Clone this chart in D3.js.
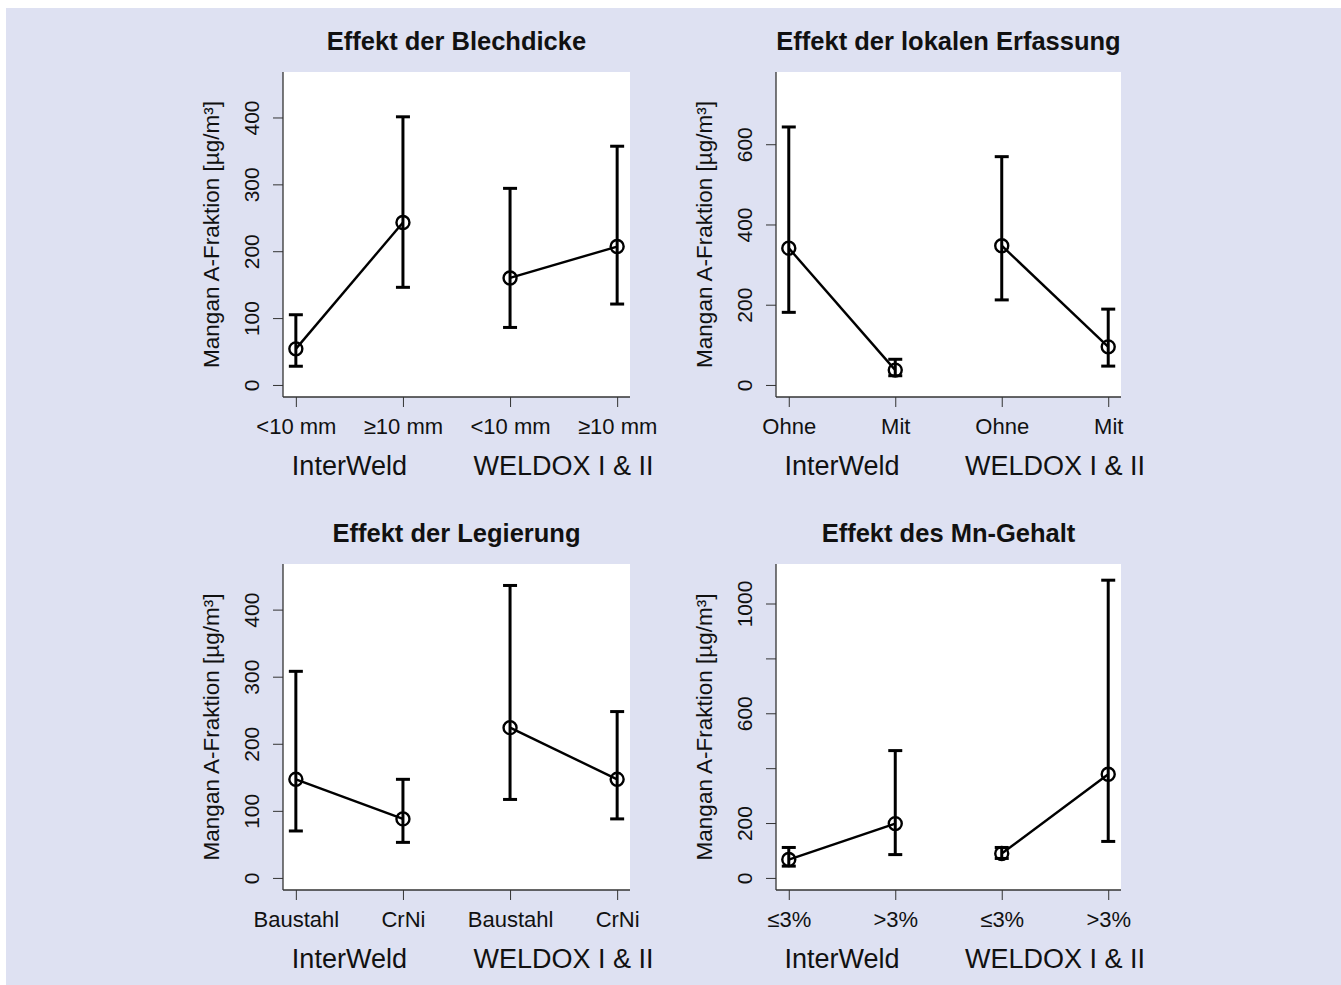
<!DOCTYPE html>
<html lang="de">
<head>
  <meta charset="UTF-8">
  <title>Mangan A-Fraktion</title>
  <script src="https://cdn.jsdelivr.net/npm/d3@7"></script>
  <style>
    body { margin: 0; background: #fff; }
    svg { display: block; font-family: "Liberation Sans", Arial, sans-serif; }
  </style>
</head>
<body>
  <div id="container"></div>
  <script>
    // daten
    const titles = ["Effekt der Blechdicke", "Effekt der lokalen Erfassung", "Effekt der Legierung", "Effekt des Mn-Gehalt"];
    const groups = ["InterWeld", "WELDOX I & II"];
    const catLabels = [
      ["<10 mm", "≥10 mm", "<10 mm", "≥10 mm"],
      ["Ohne", "Mit", "Ohne", "Mit"],
      ["Baustahl", "CrNi", "Baustahl", "CrNi"],
      ["≤3%", ">3%", "≤3%", ">3%"]
    ];
    const means = [
      [54, 243, 160, 207],
      [341, 37, 347, 95],
      [147, 88, 224, 147],
      [67, 198, 89, 378]
    ];
    const upper = [
      [105, 401, 294, 357],
      [643, 64, 569, 189],
      [308, 147, 436, 248],
      [111, 464, 111, 1085]
    ];
    const lower = [
      [28, 146, 86, 121],
      [181, 23, 212, 47],
      [70, 53, 117, 88],
      [43, 85, 71, 133]
    ];
    const yMax = [450, 750, 450, 1100];
    const yTicks = [
      [0, 100, 200, 300, 400],
      [0, 200, 400, 600],
      [0, 100, 200, 300, 400],
      [0, 200, 400, 600, 800, 1000]
    ];
    const yTickLabels = [
      ["0", "100", "200", "300", "400"],
      ["0", "200", "400", "600"],
      ["0", "100", "200", "300", "400"],
      ["0", "200", "", "600", "", "1000"]
    ];
    const yLabel = "Mangan A-Fraktion [µg/m³]";

    const W = 1341, H = 985;
    const svg = d3.select("#container").append("svg")
      .attr("width", W).attr("height", H);

    svg.append("rect")
      .attr("x", 6).attr("y", 8)
      .attr("width", W - 6).attr("height", H - 8)
      .attr("fill", "#dee1f2");

    // plot-bereiche
    const panels = [
      { left: 283, top: 72, width: 347, height: 325 },
      { left: 776, top: 72, width: 345, height: 325 },
      { left: 283, top: 564, width: 347, height: 326 },
      { left: 776, top: 564, width: 345, height: 326 }
    ];

    panels.forEach(function (p, k) {
      const g = svg.append("g").attr("transform", "translate(" + p.left + "," + p.top + ")");

      const x = d3.scaleLinear().domain([0.88, 4.12]).range([0, p.width]);
      const pad = yMax[k] * 0.04;
      const y = d3.scaleLinear().domain([-pad, yMax[k] + pad]).range([p.height, 0]);

      g.append("rect")
        .attr("width", p.width).attr("height", p.height)
        .attr("fill", "#fff");

      // titel
      svg.append("text")
        .attr("x", p.left + p.width / 2)
        .attr("y", p.top - 22)
        .attr("text-anchor", "middle")
        .attr("font-size", 25.5)
        .attr("font-weight", "bold")
        .attr("fill", "#111")
        .text(titles[k]);

      // y achse
      const yAxis = d3.axisLeft(y)
        .tickValues(yTicks[k])
        .tickSize(10)
        .tickFormat(function (d, i) { return yTickLabels[k][i]; });
      const ya = g.append("g").call(yAxis);
      ya.select(".domain").remove();
      ya.selectAll("line").attr("stroke", "#333");
      ya.selectAll("text")
        .attr("font-size", 21)
        .attr("fill", "#111")
        .attr("x", -24)
        .attr("y", 0)
        .attr("dy", 0)
        .attr("transform", "rotate(-90,-24,0)")
        .attr("text-anchor", "middle");

      // x achse
      const xAxis = d3.axisBottom(x)
        .tickValues([1, 2, 3, 4])
        .tickSize(10)
        .tickPadding(11)
        .tickFormat(function (d) { return catLabels[k][d - 1]; });
      const xa = g.append("g").attr("transform", "translate(0," + p.height + ")").call(xAxis);
      xa.select(".domain").remove();
      xa.selectAll("line").attr("stroke", "#333");
      xa.selectAll("text").attr("font-size", 22).attr("fill", "#111");

      // achsenlinien
      g.append("line")
        .attr("x1", 0).attr("x2", 0).attr("y1", 0).attr("y2", p.height)
        .attr("stroke", "#333").attr("stroke-width", 1.3);
      g.append("line")
        .attr("x1", 0).attr("x2", p.width).attr("y1", p.height).attr("y2", p.height)
        .attr("stroke", "#333").attr("stroke-width", 1.3);

      // gruppen
      groups.forEach(function (name, j) {
        g.append("text")
          .attr("x", x(1.5 + 2 * j))
          .attr("y", p.height + 78)
          .attr("text-anchor", "middle")
          .attr("font-size", 27)
          .attr("fill", "#111")
          .text(name);
      });

      // y label
      g.append("text")
        .attr("transform", "translate(" + (-64) + "," + (p.height / 2) + ") rotate(-90)")
        .attr("text-anchor", "middle")
        .attr("font-size", 22.5)
        .attr("fill", "#111")
        .text(yLabel);

      // daten
      const pts = means[k].map(function (m, i) {
        return { x: i + 1, m: m, lo: lower[k][i], hi: upper[k][i] };
      });

      const line = d3.line().x(function (d) { return x(d.x); }).y(function (d) { return y(d.m); });
      [pts.slice(0, 2), pts.slice(2, 4)].forEach(function (seg) {
        g.append("path").attr("d", line(seg))
          .attr("fill", "none").attr("stroke", "#000").attr("stroke-width", 2.4);
      });

      const eb = g.selectAll(".eb").data(pts).enter().append("g");
      eb.append("line")
        .attr("x1", function (d) { return x(d.x); }).attr("x2", function (d) { return x(d.x); })
        .attr("y1", function (d) { return y(d.lo); }).attr("y2", function (d) { return y(d.hi); })
        .attr("stroke", "#000").attr("stroke-width", 3);
      ["lo", "hi"].forEach(function (key) {
        eb.append("line")
          .attr("x1", function (d) { return x(d.x) - 7; }).attr("x2", function (d) { return x(d.x) + 7; })
          .attr("y1", function (d) { return y(d[key]); }).attr("y2", function (d) { return y(d[key]); })
          .attr("stroke", "#000").attr("stroke-width", 3);
      });
      eb.append("circle")
        .attr("cx", function (d) { return x(d.x); })
        .attr("cy", function (d) { return y(d.m); })
        .attr("r", 6.5)
        .attr("fill", "none")
        .attr("stroke", "#000").attr("stroke-width", 2.4);
    });
  </script>
</body>
</html>
